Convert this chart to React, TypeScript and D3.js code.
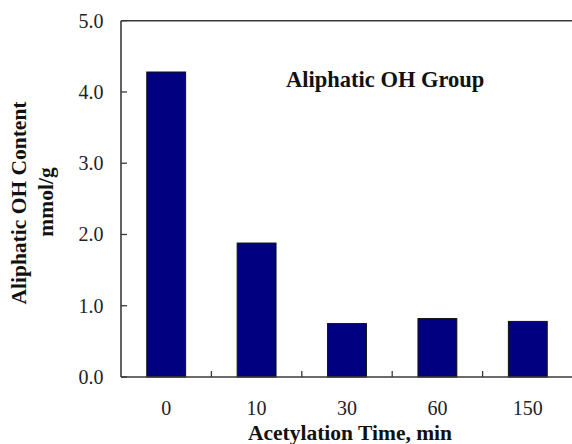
import React from "react";
import * as d3 from "d3";

const categories: string[] = ["0", "10", "30", "60", "150"];
const values: number[] = [4.28, 1.88, 0.75, 0.82, 0.78];
const yTicks: number[] = [0, 1, 2, 3, 4, 5];
const xTitle = "Acetylation Time, min";
const yTitle1 = "Aliphatic OH Content";
const yTitle2 = "mmol/g";
const annotation = "Aliphatic OH Group";

const W = 572;
const H = 444;
const left = 121;
const right = 573;
const top = 20.7;
const bottom = 377;
const font = "'Liberation Serif', 'Times New Roman', serif";
const axisColor = "#3a3a3a";

export default function App() {
  const x = d3
    .scaleBand<string>()
    .domain(categories)
    .range([left, right])
    .paddingInner(0.57)
    .paddingOuter(0.285);
  const y = d3.scaleLinear().domain([0, 5]).range([bottom, top]);
  const step = x.step();
  const boundaries = d3.range(1, categories.length).map((i) => left + i * step);

  return (
    <svg
      width={W}
      height={H}
      style={{ position: "absolute", left: 0, top: 0, background: "#fff" }}
    >
      <rect x={0} y={0} width={W} height={H} fill="#fff" />
      {categories.map((c, i) => (
        <rect
          key={c}
          x={x(c)!}
          y={y(values[i])}
          width={x.bandwidth()}
          height={y(0) - y(values[i])}
          fill="#000080"
          stroke="#111"
          strokeWidth={1}
        />
      ))}
      <line x1={left} x2={right} y1={top} y2={top} stroke={axisColor} strokeWidth={1.6} />
      <line x1={left} x2={left} y1={top} y2={bottom} stroke={axisColor} strokeWidth={1.6} />
      <line x1={left} x2={right} y1={bottom} y2={bottom} stroke={axisColor} strokeWidth={1.6} />
      {yTicks.map((t) => (
        <g key={t}>
          <line x1={left} x2={left + 6} y1={y(t)} y2={y(t)} stroke={axisColor} strokeWidth={1.3} />
          <text
            x={103.5}
            y={y(t)}
            dy="0.35em"
            textAnchor="end"
            fontFamily={font}
            fontSize={20}
            fill="#222"
          >
            {t.toFixed(1)}
          </text>
        </g>
      ))}
      {boundaries.map((b, i) => (
        <line key={i} x1={b} x2={b} y1={bottom} y2={bottom - 6} stroke={axisColor} strokeWidth={1.3} />
      ))}
      {categories.map((c) => (
        <text
          key={c}
          x={x(c)! + x.bandwidth() / 2}
          y={415}
          textAnchor="middle"
          fontFamily={font}
          fontSize={20}
          fill="#222"
        >
          {c}
        </text>
      ))}
      <text
        x={(left + right) / 2 + 3}
        y={440}
        textAnchor="middle"
        fontFamily={font}
        fontSize={21.5}
        fontWeight="bold"
        fill="#111"
      >
        {xTitle}
      </text>
      <text
        transform={`translate(25.5,203) rotate(-90)`}
        textAnchor="middle"
        fontFamily={font}
        fontSize={21.5}
        fontWeight="bold"
        fill="#111"
      >
        {yTitle1}
      </text>
      <text
        transform={`translate(53,202) rotate(-90)`}
        textAnchor="middle"
        fontFamily={font}
        fontSize={21.5}
        fontWeight="bold"
        fill="#111"
      >
        {yTitle2}
      </text>
      <text
        x={286}
        y={87}
        textAnchor="start"
        fontFamily={font}
        fontSize={22.5}
        fontWeight="bold"
        fill="#111"
      >
        {annotation}
      </text>
    </svg>
  );
}
